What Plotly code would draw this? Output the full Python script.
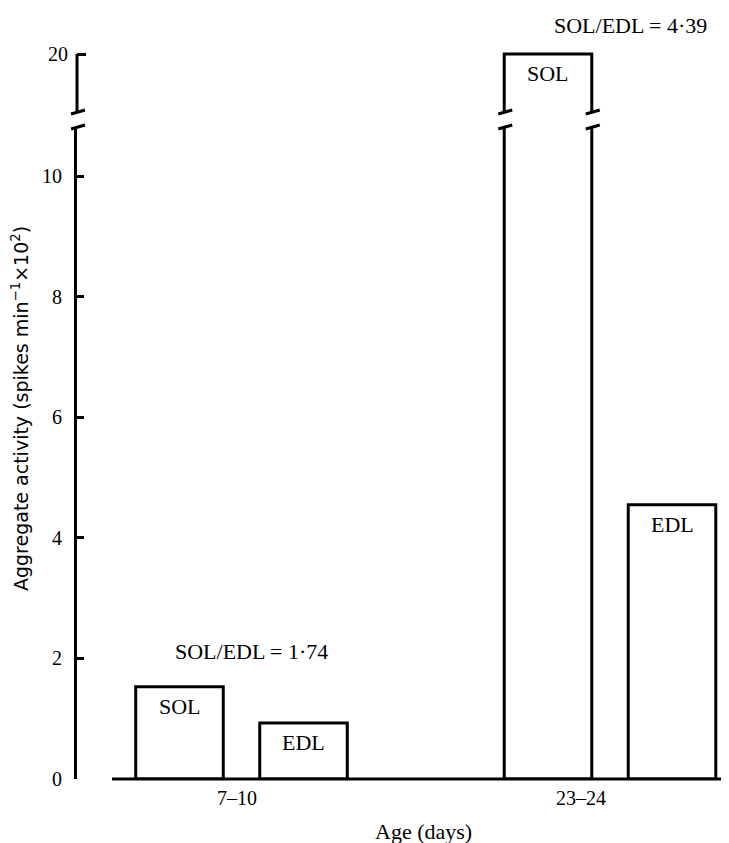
import plotly.graph_objects as go

# ---- data ----
categories = ["7–10", "23–24"]
sol = [1.53, 20.0]
edl = [0.93, 4.55]
ratio_labels = ["SOL/EDL = 1·74", "SOL/EDL = 4·39"]
low_ticks = [0, 2, 4, 6, 8, 10]
high_ticks = [20]

# ---- geometry / style ----
SERIF = "Liberation Serif"
SANS = "DejaVu Sans"
OFF = 8                      # page body margin
W, H = 729 - OFF, 843 - OFF
ML, MR, MT, MB = 77 - OFF, 0, 48 - OFF, 64
BARGAP = 0.327
GROUPGAP = 0.294
low_range = [0, 10.82]
high_range = [19.0, 20.1034]
plot_h = H - MT - MB
plot_w = W - ML - MR
d0 = (779 - 127) / plot_h     # top of lower panel
d1 = (779 - 112) / plot_h     # bottom of upper panel

fig = go.Figure()
bar_style = dict(color="white", line=dict(color="black", width=3))
for yax in ["y", "y2"]:
    fig.add_bar(x=categories, y=sol, yaxis=yax, name="SOL", marker=bar_style,
                showlegend=False, hoverinfo="skip")
    fig.add_bar(x=categories, y=edl, yaxis=yax, name="EDL", marker=bar_style,
                showlegend=False, hoverinfo="skip")

slot = (1 - BARGAP) / 2
half = slot * (1 - GROUPGAP) / 2

annotations = []
shapes = []
for i, cat in enumerate(categories):
    for name, vals, off in (("SOL", sol, -slot / 2), ("EDL", edl, slot / 2)):
        v = vals[i]
        yref = "y" if v <= low_range[1] else "y2"
        annotations.append(dict(x=i + off, xref="x", y=v, yref=yref, text=name,
                                showarrow=False, yanchor="top", yshift=-5,
                                font=dict(family=SERIF, size=22, color="black")))
        if v > low_range[1]:
            # break marks on the sides of the broken bar
            for edge in (i + off - half, i + off + half):
                for ya in (d0, d1):
                    shapes.append(dict(type="line", xref="x", yref="paper",
                                       xsizemode="pixel", ysizemode="pixel",
                                       xanchor=edge, yanchor=ya,
                                       x0=-6, x1=8, y0=-2, y1=2,
                                       line=dict(color="black", width=3)))
    # x tick labels
    annotations.append(dict(x=cat, xref="x", y=0, yref="paper", text=cat,
                            showarrow=False, yanchor="top", yshift=-6,
                            xshift=(-5 if i == 0 else -29),
                            font=dict(family=SERIF, size=20, color="black")))

# ratio labels
annotations.append(dict(x=categories[0], xref="x", y=2.12, yref="y",
                        text=ratio_labels[0], showarrow=False, xshift=10,
                        font=dict(family=SERIF, size=22, color="black")))
annotations.append(dict(x=categories[1], xref="x", y=1, yref="paper",
                        text=ratio_labels[1], showarrow=False, xshift=20, yshift=23,
                        yanchor="middle",
                        font=dict(family=SERIF, size=22, color="black")))
# axis titles
annotations.append(dict(x=(423 - 77) / plot_w, xref="paper", y=0, yref="paper",
                        text="Age (days)", showarrow=False, yanchor="middle", yshift=-52,
                        font=dict(family=SERIF, size=22, color="black")))
annotations.append(dict(x=(6 - 77) / plot_w, xref="paper",
                        y=(779 - 409) / plot_h, yref="paper",
                        text="Aggregate activity (spikes min<sup>−1</sup>×10<sup>2</sup>)",
                        textangle=-90, showarrow=False,
                        font=dict(family=SANS, size=19, color="black")))

# baseline (starts a little to the right of the y axis)
shapes.append(dict(type="line", xref="paper", yref="paper",
                   x0=(112 - 77) / plot_w, x1=1, y0=0, y1=0,
                   line=dict(color="black", width=3)))
# upper axis segment (ends at 20)
top20 = d1 + (high_ticks[0] - high_range[0]) / (high_range[1] - high_range[0]) * (1 - d1)
shapes.append(dict(type="line", xref="paper", yref="paper", x0=0, x1=0,
                   y0=d1, y1=top20, line=dict(color="black", width=3)))
# axis break marks
for ya in (d0, d1):
    shapes.append(dict(type="line", xref="paper", yref="paper",
                       xsizemode="pixel", ysizemode="pixel", xanchor=0, yanchor=ya,
                       x0=-6, x1=8, y0=-2, y1=2, line=dict(color="black", width=3)))

tickfont = dict(family=SERIF, size=20, color="black")
fig.update_layout(
    width=W, height=H,
    margin=dict(l=ML, r=MR, t=MT, b=MB),
    paper_bgcolor="white", plot_bgcolor="white",
    barmode="group", bargap=BARGAP, bargroupgap=GROUPGAP,
    xaxis=dict(range=[-0.4464, 1.3229], showticklabels=False, ticks="",
               showline=False, showgrid=False, zeroline=False, anchor="y"),
    yaxis=dict(domain=[0, d0], range=low_range, tickvals=low_ticks,
               ticks="inside", ticklen=7, tickwidth=2.5, tickcolor="black",
               showline=True, linewidth=3, linecolor="black",
               showgrid=False, zeroline=False, tickfont=tickfont,
               ticklabelstandoff=8),
    yaxis2=dict(domain=[d1, 1], range=high_range, tickvals=high_ticks,
                ticks="inside", ticklen=9, tickwidth=3, tickcolor="black",
                showline=False, showgrid=False, zeroline=False, tickfont=tickfont,
                anchor="x", ticklabelstandoff=8),
    annotations=annotations,
    shapes=shapes,
)

fig.write_html("out.html")
